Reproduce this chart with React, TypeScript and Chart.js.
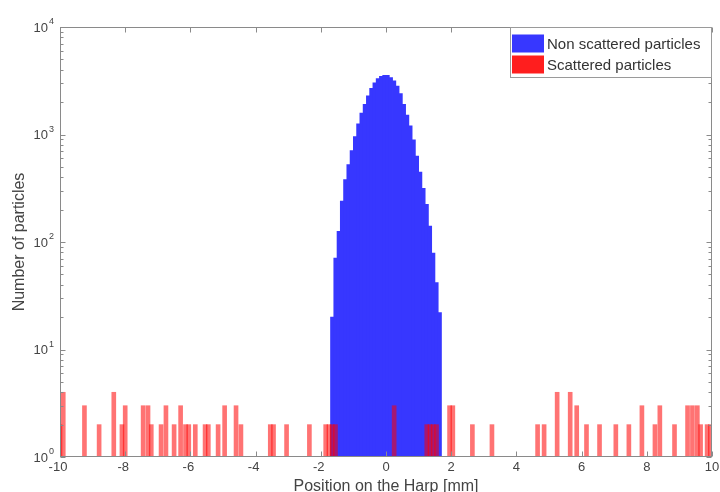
import { useEffect, useRef } from 'react';
import { Chart, registerables } from 'chart.js';

Chart.register(...registerables);

// Non scattered particles: histogram bin centres [mm] and counts
const blueX = [
  -1.65, -1.55, -1.45, -1.35, -1.25, -1.15, -1.05, -0.95, -0.85, -0.75, -0.65, -0.55,
  -0.45, -0.35, -0.25, -0.15, -0.05, 0.05, 0.15, 0.25, 0.35, 0.45, 0.55, 0.65, 0.75,
  0.85, 0.95, 1.05, 1.15, 1.25, 1.35, 1.45, 1.55, 1.65,
];
const blueCounts = [
  20, 71, 126, 240, 380, 525, 708, 955, 1259, 1585, 1905, 2291, 2692, 3020, 3311, 3467, 3548,
  3548, 3388, 3162, 2818, 2399, 1905, 1514, 1202, 891, 631, 447, 316, 224, 141, 79, 42, 22,
];

// Scattered particles
const redX = [
  -10.0, -9.9, -9.25, -8.8, -8.35, -8.1, -8.0, -7.45, -7.3, -7.2,
  -6.9, -6.75, -6.5, -6.3, -6.15, -6.05, -5.85, -5.55, -5.45, -5.15,
  -4.95, -4.6, -4.45, -3.55, -3.45, -3.05, -2.35, -1.85, -1.75, -1.65,
  -1.55, 0.25, 1.25, 1.35, 1.45, 1.55, 1.95, 2.05, 2.65, 3.25,
  4.65, 4.85, 5.25, 5.65, 5.85, 6.15, 6.55, 7.05, 7.45, 7.85,
  8.25, 8.4, 8.85, 9.25, 9.4, 9.55, 9.65, 9.85, 9.95,
];
const redCounts = [
  2, 4, 3, 2, 4, 2, 3, 3, 3, 2,
  2, 3, 2, 3, 2, 2, 2, 2, 2, 2,
  3, 3, 2, 2, 2, 2, 2, 2, 2, 2,
  2, 3, 2, 2, 2, 2, 3, 3, 2, 2,
  2, 2, 4, 4, 3, 2, 2, 2, 2, 3,
  2, 3, 2, 3, 3, 3, 2, 2, 2,
];

const xTicks = [-10, -8, -6, -4, -2, 0, 2, 4, 6, 8, 10];
const yDecades = [0, 1, 2, 3, 4];
const legendLabels = ['Non scattered particles', 'Scattered particles'];
const xTitle = 'Position on the Harp [mm]';
const yTitle = 'Number of particles';

const FONT = '"Liberation Sans", Arial, Helvetica, sans-serif';
const BLUE = 'rgb(55,55,255)';
const RED = 'rgba(255,0,0,0.55)';
const AXIS = '#8a8a8a';
const TEXT = '#444444';

const framePlugin = {
  id: 'matlabFrame',
  afterDatasetsDraw(chart: any) {
    const { ctx, chartArea: a, scales } = chart;
    const x = scales.x;
    const y = scales.y;
    const L = Math.floor(a.left) + 0.5;
    const R = Math.floor(a.right) - 0.5;
    const T = Math.floor(a.top) + 0.5;
    const B = Math.floor(a.bottom) - 0.5;
    ctx.save();
    ctx.strokeStyle = AXIS;
    ctx.lineWidth = 1;
    ctx.beginPath();
    for (const v of xTicks) {
      const px = Math.round(x.getPixelForValue(v)) + 0.5;
      ctx.moveTo(px, B);
      ctx.lineTo(px, B - 5);
      ctx.moveTo(px, T);
      ctx.lineTo(px, T + 5);
    }
    for (const d of yDecades) {
      for (let m = 1; m <= 9; m++) {
        if (d === 4 && m > 1) break;
        const v = m * Math.pow(10, d);
        const py = Math.round(y.getPixelForValue(v)) + 0.5;
        const len = m === 1 ? 5 : 3;
        ctx.moveTo(L, py);
        ctx.lineTo(L + len, py);
        ctx.moveTo(R, py);
        ctx.lineTo(R - len, py);
      }
    }
    ctx.stroke();
    ctx.strokeRect(L, T, R - L, B - T);

    // x tick labels
    ctx.fillStyle = TEXT;
    ctx.font = `13px ${FONT}`;
    ctx.textAlign = 'center';
    ctx.textBaseline = 'top';
    for (const v of xTicks) {
      const px = x.getPixelForValue(v);
      const lab = String(v);
      const shift = v < 0 ? -2 : 0;
      ctx.fillText(lab, px + shift, a.bottom + 4);
    }

    // y tick labels 10^n
    for (const d of yDecades) {
      const py = y.getPixelForValue(Math.pow(10, d));
      ctx.font = `13px ${FONT}`;
      ctx.textAlign = 'right';
      ctx.textBaseline = 'middle';
      ctx.fillText('10', 48, py + 1);
      ctx.font = `9px ${FONT}`;
      ctx.textAlign = 'left';
      ctx.fillText(String(d), 49, py - 5);
    }

    // axis titles
    ctx.font = `16px ${FONT}`;
    ctx.textAlign = 'center';
    ctx.textBaseline = 'alphabetic';
    ctx.fillText(xTitle, (a.left + a.right) / 2, 491);
    ctx.save();
    ctx.translate(24, (a.top + a.bottom) / 2);
    ctx.rotate(-Math.PI / 2);
    ctx.fillText(yTitle, 0, 0);
    ctx.restore();

    // legend
    const lx = 510.5;
    const ly = T;
    const lw = R - lx;
    const lh = 50;
    ctx.fillStyle = '#ffffff';
    ctx.fillRect(lx, ly, lw, lh);
    ctx.strokeStyle = '#9a9a9a';
    ctx.strokeRect(lx, ly, lw, lh);
    const colors = [BLUE, 'rgb(255,30,30)'];
    legendLabels.forEach((lab, i) => {
      const cy = ly + 16 + i * 21;
      ctx.fillStyle = colors[i];
      ctx.fillRect(512, cy - 9, 32, 18);
      ctx.fillStyle = '#333333';
      ctx.font = `15px ${FONT}`;
      ctx.textAlign = 'left';
      ctx.textBaseline = 'middle';
      ctx.fillText(lab, 547, cy + 1);
    });
    ctx.restore();
  },
};

export default function App() {
  const ref = useRef<HTMLCanvasElement | null>(null);
  useEffect(() => {
    document.body.style.margin = '0';
    const canvas = ref.current;
    if (!canvas) return;
    const chart = new Chart(canvas, {
      type: 'bar',
      data: {
        datasets: [
          {
            label: legendLabels[0],
            data: blueX.map((v, i) => ({ x: v, y: blueCounts[i] })),
            backgroundColor: BLUE,
            borderWidth: 0,
            barThickness: 3.4,
            grouped: false,
            order: 2,
          } as any,
          {
            label: legendLabels[1],
            data: redX.map((v, i) => ({ x: v, y: redCounts[i] })),
            backgroundColor: RED,
            borderWidth: 0,
            barThickness: 4,
            grouped: false,
            order: 1,
          } as any,
        ],
      },
      options: {
        responsive: false,
        animation: false,
        devicePixelRatio: 1,
        layout: { padding: { top: 27, right: 8, left: 0, bottom: 0 } },
        plugins: { legend: { display: false }, tooltip: { enabled: false }, title: { display: false } },
        scales: {
          x: {
            type: 'linear',
            min: -10,
            max: 10,
            offset: false,
            grid: { display: false, drawTicks: false },
            border: { display: false },
            ticks: { display: false, stepSize: 2 },
            afterFit: (s: any) => {
              s.height = 35;
            },
          },
          y: {
            type: 'logarithmic',
            min: 1,
            max: 10000,
            grid: { display: false },
            border: { display: false },
            ticks: { display: false },
            afterFit: (s: any) => {
              s.width = 60;
            },
          },
        },
      } as any,
      plugins: [framePlugin],
    });
    return () => chart.destroy();
  }, []);
  return (
    <div style={{ width: 720, height: 492, background: '#fff' }}>
      <canvas ref={ref} width={720} height={492} style={{ display: 'block' }} />
    </div>
  );
}
